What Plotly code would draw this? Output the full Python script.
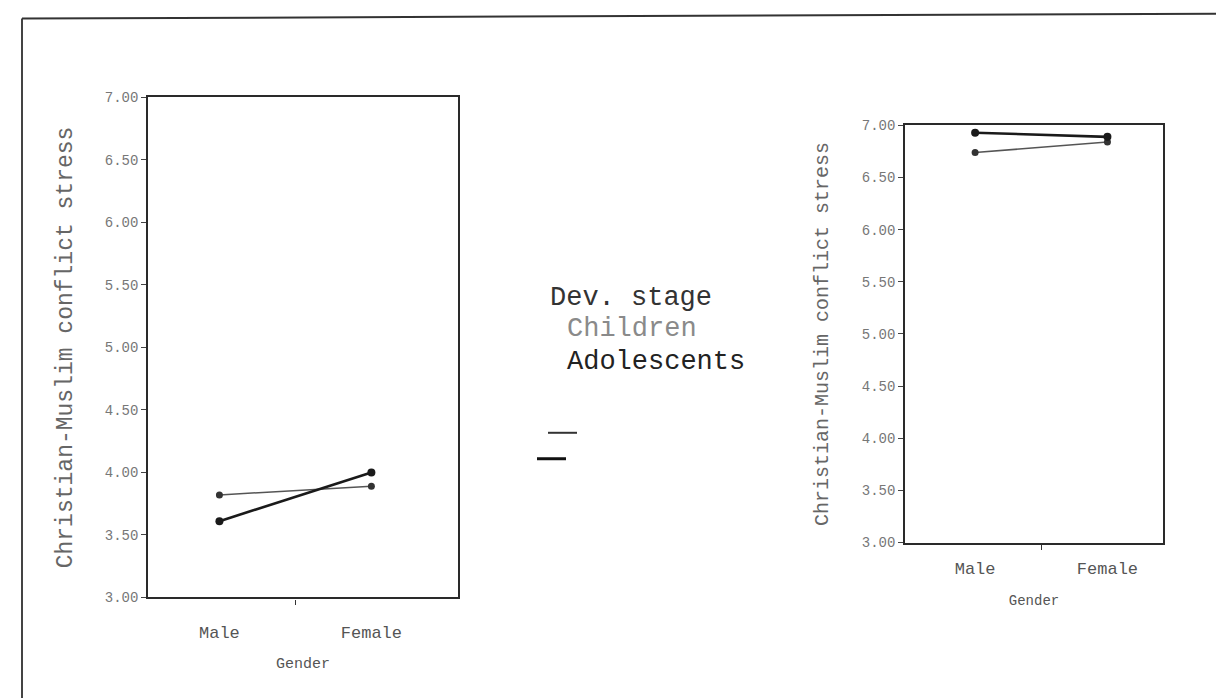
import plotly.graph_objects as go

genders = ["Male", "Female"]
gender_pos = [1, 2]
series_names = ["Children", "Adolescents"]

# Left panel
left_children = [3.82, 3.89]
left_adolescents = [3.61, 4.00]
# Right panel
right_children = [6.74, 6.84]
right_adolescents = [6.93, 6.89]

y_ticks = [3.0, 3.5, 4.0, 4.5, 5.0, 5.5, 6.0, 6.5, 7.0]

FONT = "Liberation Mono, Courier New, monospace"
styles = {
    "Children": dict(line=dict(color="#555555", width=1.5),
                     marker=dict(color="#333333", size=7)),
    "Adolescents": dict(line=dict(color="#1a1a1a", width=2.6),
                        marker=dict(color="#1a1a1a", size=8)),
}

fig = go.Figure()
for name, vals in zip(series_names, [left_children, left_adolescents]):
    fig.add_trace(go.Scatter(x=gender_pos, y=vals, mode="lines+markers", name=name,
                             xaxis="x", yaxis="y", showlegend=False, **styles[name]))
for name, vals in zip(series_names, [right_children, right_adolescents]):
    fig.add_trace(go.Scatter(x=gender_pos, y=vals, mode="lines+markers", name=name,
                             xaxis="x2", yaxis="y2", showlegend=False, **styles[name]))

W, H = 1224, 699

# compensate page offset observed in rendering
def px_x(v):
    return (v - 8) / W

def px_y(v):
    return 1 - ((v - 14.4) / 0.979) / H

common_x = dict(tickmode="array", tickvals=gender_pos, ticktext=genders, ticks="",
                showline=True, linecolor="#2a2a2a", linewidth=2.2, mirror=True,
                showgrid=False, zeroline=False,
                tickfont=dict(family=FONT, size=17, color="#555555"),
                minor=dict(tickvals=[1.5], ticks="outside", ticklen=5, tickcolor="#333333",
                           showgrid=False))
common_y = dict(range=[3, 7], tickmode="array", tickvals=y_ticks,
                ticktext=[f"{v:.2f}" for v in y_ticks], ticks="outside", ticklen=5,
                tickcolor="#444444", showline=True, linecolor="#2a2a2a", linewidth=1.6,
                mirror=True, showgrid=False, zeroline=False,
                tickfont=dict(family=FONT, size=14, color="#777777"))

fig.update_layout(
    width=W, height=H,
    margin=dict(l=0, r=0, t=0, b=0),
    paper_bgcolor="white", plot_bgcolor="white",
    font=dict(family=FONT, color="#555555"),
    xaxis=dict(domain=[px_x(148), px_x(458)], range=[0.53, 2.57], anchor="y",
               ticklabelstandoff=18,
               title=dict(text="Gender", font=dict(family=FONT, size=15, color="#555555"),
                          standoff=16),
               **common_x),
    yaxis=dict(domain=[px_y(598), px_y(97)], anchor="x",
               title=dict(text="Christian-Muslim conflict stress",
                          font=dict(family=FONT, size=23, color="#666666"), standoff=26),
               **common_y),
    xaxis2=dict(domain=[px_x(905), px_x(1163)], range=[0.47, 2.42], anchor="y2",
                ticklabelstandoff=9,
                title=dict(text="Gender", font=dict(family=FONT, size=14, color="#555555"),
                           standoff=17),
                **common_x),
    yaxis2=dict(domain=[px_y(543), px_y(125)], anchor="x2",
                title=dict(text="Christian-Muslim conflict stress",
                           font=dict(family=FONT, size=20, color="#666666"), standoff=28),
                **common_y),
    showlegend=False,
)

# Legend drawn as text + key lines (positioned like the reference)
fig.add_annotation(x=px_x(548), y=px_y(298), xref="paper", yref="paper", xanchor="left",
                   yanchor="middle", showarrow=False, text="Dev. stage",
                   font=dict(family=FONT, size=27, color="#333333"))
fig.add_annotation(x=px_x(565), y=px_y(329), xref="paper", yref="paper", xanchor="left",
                   yanchor="middle", showarrow=False, text=series_names[0],
                   font=dict(family=FONT, size=27, color="#8a8a8a"))
fig.add_annotation(x=px_x(565), y=px_y(362), xref="paper", yref="paper", xanchor="left",
                   yanchor="middle", showarrow=False, text=series_names[1],
                   font=dict(family=FONT, size=27, color="#222222"))
fig.add_shape(type="line", xref="paper", yref="paper", x0=px_x(548), x1=px_x(577),
              y0=px_y(433), y1=px_y(433), line=dict(color="#333333", width=2))
fig.add_shape(type="line", xref="paper", yref="paper", x0=px_x(537), x1=px_x(566),
              y0=px_y(459), y1=px_y(459), line=dict(color="#111111", width=3))

# Scanned page frame (left and top edges)
fig.add_shape(type="line", xref="paper", yref="paper", x0=px_x(22), x1=px_x(22),
              y0=px_y(18), y1=0, line=dict(color="#444444", width=2))
fig.add_shape(type="line", xref="paper", yref="paper", x0=px_x(22), x1=1,
              y0=px_y(18), y1=px_y(13), line=dict(color="#333333", width=2))

fig.write_html("out.html")
